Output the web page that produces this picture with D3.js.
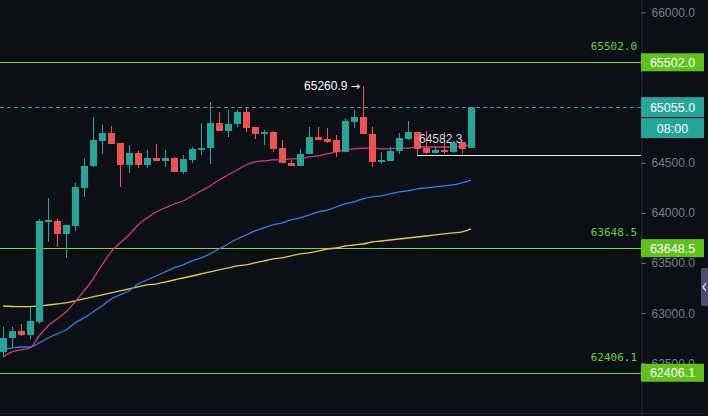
<!DOCTYPE html>
<html>
<head>
<meta charset="utf-8">
<script src="https://cdn.jsdelivr.net/npm/d3@7"></script>
<style>
  html, body { margin: 0; padding: 0; background: #0d0f16; }
  svg { display: block; }
  .y-axis .tick text { font-family: "Liberation Sans", Arial, sans-serif; font-size: 12px; fill: #787b86; }
  .y-axis .tick line { stroke: #787b86; }
  .y-axis .domain { stroke: #2a2e39; }
</style>
</head>
<body>
<div id="chart"></div>
<script>
// OHLC candles (one per bar, left to right)
const opens  = [62614, 62753, 62823, 62783, 62913, 63910, 63920, 63790, 63870, 64249, 64468, 64717, 64797, 64697, 64478, 64598, 64478, 64548, 64518, 64548, 64408, 64528, 64628, 64647, 64897, 64817, 64887, 65006, 64857, 64787, 64807, 64647, 64498, 64468, 64588, 64757, 64737, 64727, 64608, 64907, 64957, 64787, 64508, 64518, 64618, 64737, 64807, 64647, 64598, 64628, 64608, 64707, 64647];
const highs  = [62863, 62863, 62893, 63062, 63940, 64149, 63940, 63880, 64299, 64548, 64957, 64877, 64867, 64697, 64677, 64618, 64628, 64687, 64628, 64558, 64578, 64657, 64897, 65106, 65006, 65026, 65026, 65046, 64857, 64827, 64817, 64727, 64528, 64638, 64857, 64857, 64847, 64777, 64946, 65026, 65260.9, 64857, 64608, 64657, 64797, 64917, 64807, 64817, 64657, 64807, 64717, 64707, 65055];
const lows   = [62564, 62663, 62773, 62743, 62893, 63710, 63660, 63551, 63820, 64159, 64458, 64588, 64687, 64259, 64398, 64448, 64448, 64518, 64458, 64408, 64388, 64498, 64578, 64488, 64817, 64757, 64857, 64807, 64737, 64677, 64608, 64498, 64468, 64468, 64588, 64727, 64697, 64558, 64608, 64847, 64787, 64458, 64488, 64518, 64588, 64727, 64582.3, 64588, 64590, 64588, 64598, 64590, 64647];
const closes = [62753, 62823, 62783, 62923, 63920, 63930, 63790, 63880, 64259, 64468, 64727, 64797, 64687, 64478, 64598, 64478, 64548, 64518, 64548, 64408, 64538, 64638, 64647, 64897, 64817, 64887, 65006, 64847, 64787, 64807, 64638, 64498, 64468, 64588, 64757, 64727, 64707, 64608, 64917, 64957, 64787, 64508, 64528, 64618, 64747, 64807, 64638, 64598, 64628, 64608, 64697, 64638, 65055];

// moving averages (pink = fast, blue = mid, yellow = slow)
const maFast = [62564, 62614, 62634, 62653, 62773, 62873, 62943, 63012, 63112, 63222, 63341, 63481, 63611, 63700, 63780, 63880, 63950, 64009, 64049, 64089, 64119, 64169, 64219, 64269, 64328, 64378, 64428, 64478, 64508, 64518, 64528, 64528, 64538, 64538, 64558, 64568, 64588, 64608, 64628, 64638, 64647, 64647, 64638, 64638, 64647, 64647, 64657, 64657, 64657, 64657, 64657, 64667, 64677];
const maMid  = [62643, 62653, 62663, 62663, 62703, 62753, 62793, 62833, 62903, 62953, 63012, 63072, 63142, 63182, 63222, 63291, 63331, 63371, 63411, 63451, 63481, 63521, 63551, 63591, 63640, 63690, 63740, 63780, 63820, 63850, 63880, 63900, 63930, 63950, 63979, 64009, 64029, 64059, 64089, 64109, 64139, 64159, 64169, 64189, 64209, 64219, 64239, 64249, 64259, 64269, 64279, 64299, 64328];
const maSlow = [63072, 63067, 63065, 63065, 63072, 63082, 63092, 63102, 63122, 63142, 63162, 63182, 63202, 63222, 63242, 63262, 63282, 63291, 63311, 63331, 63351, 63371, 63391, 63411, 63431, 63451, 63471, 63481, 63501, 63521, 63541, 63551, 63571, 63591, 63601, 63620, 63640, 63650, 63670, 63680, 63690, 63710, 63720, 63730, 63740, 63750, 63760, 63770, 63780, 63790, 63800, 63810, 63840];

// horizontal levels and marks
const levels = [65502.0, 63648.5, 62406.1];
// 65500 / 65000 sit under the level + last-price boxes, so only the visible ones
const yTicks = [66000, 64500, 64000, 63500, 63000, 62500];
const lastPrice = 65055.0;
const countdown = "08:00";
const highMarkIdx = 40, highMarkVal = 65260.9;
const lowMarkIdx = 46, lowMarkVal = 64582.3;

const W = 708, H = 416;
const axisX = 641;      // price axis sits on the right
const UP = "#26a69a", DOWN = "#ef5350";
const LEVEL = "#8ccf4a", LEVEL_BOX = "#5fc21d", LEVEL_TXT = "#6fcf2f";

const svg = d3.select("#chart").append("svg")
  .attr("width", W).attr("height", H);

svg.append("rect").attr("width", W).attr("height", H).attr("fill", "#0d0f16");

const x = d3.scaleLinear().domain([0, opens.length - 1]).range([3, 471]);
const y = d3.scaleLinear().domain([61975, 66123]).range([H, 0]);

const plot = svg.append("g");

// green horizontal levels
plot.selectAll(".level").data(levels).join("line")
  .attr("x1", 0).attr("x2", axisX)
  .attr("y1", d => Math.round(y(d)) + 0.5).attr("y2", d => Math.round(y(d)) + 0.5)
  .attr("stroke", LEVEL).attr("stroke-width", 1);

plot.selectAll(".level-label").data(levels).join("text")
  .attr("x", axisX - 4).attr("y", d => y(d) - 12)
  .attr("text-anchor", "end")
  .attr("font-family", "'DejaVu Sans Mono', monospace").attr("font-size", 11)
  .attr("fill", LEVEL_TXT)
  .text(d => d.toFixed(1));

// last price dashed line
plot.append("line")
  .attr("x1", 0).attr("x2", axisX)
  .attr("y1", Math.round(y(lastPrice)) + 0.5).attr("y2", Math.round(y(lastPrice)) + 0.5)
  .attr("stroke", UP).attr("stroke-dasharray", "4,3");

// moving averages
const maLine = d3.line().x((d, i) => x(i)).y(d => y(d)).curve(d3.curveMonotoneX);
[[maSlow, "#e3c94a"], [maMid, "#2f7fe6"], [maFast, "#cf3c78"]].forEach(([s, c]) => {
  plot.append("path").datum(s).attr("d", maLine)
    .attr("fill", "none").attr("stroke", c).attr("stroke-width", 1.3);
});

// candles
const idx = d3.range(opens.length);
const candle = plot.selectAll(".candle").data(idx).join("g");
candle.append("line")
  .attr("x1", i => Math.round(x(i)) + 0.5).attr("x2", i => Math.round(x(i)) + 0.5)
  .attr("y1", i => y(highs[i])).attr("y2", i => y(lows[i]))
  .attr("stroke", i => closes[i] >= opens[i] ? UP : DOWN).attr("stroke-width", 1);
candle.append("rect")
  .attr("x", i => Math.round(x(i)) - 3).attr("width", 7)
  .attr("y", i => y(Math.max(opens[i], closes[i])))
  .attr("height", i => Math.max(1, Math.abs(y(opens[i]) - y(closes[i]))))
  .attr("fill", i => closes[i] >= opens[i] ? UP : DOWN);

// low marker line + label
plot.append("line")
  .attr("x1", x(lowMarkIdx)).attr("x2", axisX)
  .attr("y1", Math.round(y(lowMarkVal)) + 0.5).attr("y2", Math.round(y(lowMarkVal)) + 0.5)
  .attr("stroke", "#e8e8e8").attr("stroke-width", 1);
plot.append("text")
  .attr("x", x(lowMarkIdx) + 2).attr("y", y(lowMarkVal) - 12)
  .attr("font-family", "'Liberation Sans', Arial, sans-serif").attr("font-size", 12)
  .attr("fill", "#d1d4dc")
  .text(lowMarkVal.toFixed(1));

// high marker label with arrow pointing at the wick
const hi = plot.append("text")
  .attr("x", x(highMarkIdx) - 3).attr("y", y(highMarkVal) + 4)
  .attr("text-anchor", "end")
  .attr("font-family", "'Liberation Sans', Arial, sans-serif").attr("font-size", 12)
  .attr("fill", "#ffffff");
hi.append("tspan").text(highMarkVal.toFixed(1) + " ");
hi.append("tspan").attr("font-family", "'DejaVu Sans', sans-serif").attr("font-size", 11).text("\u2192");

// price axis
svg.append("g").attr("class", "y-axis")
  .attr("transform", `translate(${axisX + 0.5},0)`)
  .call(d3.axisRight(y).tickValues(yTicks).tickSize(4).tickPadding(6).tickSizeOuter(0)
    .tickFormat(d => d.toFixed(1)));

svg.append("line").attr("x1", 0).attr("x2", W).attr("y1", 413.5).attr("y2", 413.5)
  .attr("stroke", "#1f222c");

// axis price boxes for the levels
const fontBox = "'Liberation Sans', Arial, sans-serif";
levels.forEach(v => {
  const yy = y(v);
  svg.append("rect").attr("x", axisX).attr("y", yy - 9).attr("width", 63).attr("height", 18)
    .attr("fill", LEVEL_BOX);
  svg.append("text").attr("x", axisX + 31.5).attr("y", yy + 4.5).attr("text-anchor", "middle")
    .attr("font-family", fontBox).attr("font-size", 12.5).attr("fill", "#fff")
    .text(v.toFixed(1));
});

// last price box with countdown
const yl = y(lastPrice);
svg.append("rect").attr("x", axisX).attr("y", yl - 10).attr("width", 63).attr("height", 20).attr("fill", UP);
svg.append("rect").attr("x", axisX).attr("y", yl + 11).attr("width", 63).attr("height", 20).attr("fill", UP);
svg.append("text").attr("x", axisX + 31.5).attr("y", yl + 4.5).attr("text-anchor", "middle")
  .attr("font-family", fontBox).attr("font-size", 12.5).attr("fill", "#fff").text(lastPrice.toFixed(1));
svg.append("text").attr("x", axisX + 31.5).attr("y", yl + 25.5).attr("text-anchor", "middle")
  .attr("font-family", fontBox).attr("font-size", 12.5).attr("fill", "#fff").text(countdown);

// little collapse tab at the right edge
svg.append("rect").attr("x", 701).attr("y", 268).attr("width", 9).attr("height", 38).attr("rx", 2)
  .attr("fill", "#4a4e6c");
svg.append("path").attr("d", "M706,283 L703,287 L706,291").attr("fill", "none")
  .attr("stroke", "#d8d9e6").attr("stroke-width", 1.3);
</script>
</body>
</html>
